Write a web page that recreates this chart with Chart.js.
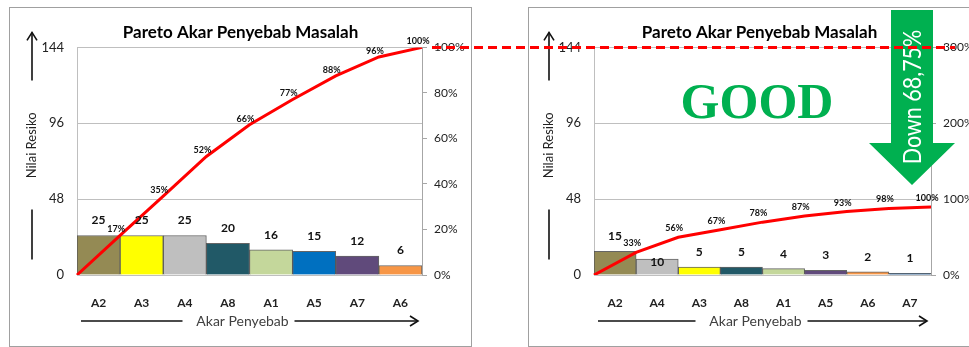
<!DOCTYPE html>
<html>
<head>
<meta charset="utf-8">
<script src="https://cdn.jsdelivr.net/npm/chart.js@4.4.1/dist/chart.umd.min.js"></script>
<style>
  body { margin: 0; background: #fff; width: 969px; height: 347px; overflow: hidden; position: relative; }
  .box { position: absolute; top: 7px; height: 340px; border: 1px solid #a0a0a0; box-sizing: border-box; }
  canvas { position: absolute; }
  #overlay { left: 0; top: 0; pointer-events: none; }
</style>
</head>
<body>
<div class="box" style="left:9px;width:463px"></div>
<div class="box" style="left:528px;width:463px"></div>
<canvas id="before" width="461" height="337" style="left:10px;top:8px"></canvas>
<canvas id="after" width="461" height="337" style="left:529px;top:8px"></canvas>
<canvas id="overlay" width="969" height="347"></canvas>

<script>
// ---- data ----
const causesBefore = ['A2', 'A3', 'A4', 'A8', 'A1', 'A5', 'A7', 'A6'];
const riskBefore = [25, 25, 25, 20, 16, 15, 12, 6];
const cumBefore = [0, 17.4, 34.7, 52.1, 66.0, 77.1, 87.5, 95.8, 100];

const causesAfter = ['A2', 'A4', 'A3', 'A8', 'A1', 'A5', 'A6', 'A7'];
const riskAfter = [15, 10, 5, 5, 4, 3, 2, 1];
const cumAfter = [0, 33.3, 55.6, 66.7, 77.8, 86.7, 93.3, 97.8, 100];

const riskTicks = [0, 48, 96, 144];
const chartTitle = 'Pareto Akar Penyebab Masalah';
const yTitle = 'Nilai Resiko';
const xTitle = 'Akar Penyebab';

// colours in bar order
const colorsBefore = ['#948A54', '#FFFF00', '#BFBFBF', '#215967', '#C4D79B', '#0070C0', '#604A7B', '#F79646'];
const colorsAfter = ['#948A54', '#BFBFBF', '#FFFF00', '#215967', '#C4D79B', '#604A7B', '#F79646', '#1F5F9F'];

Chart.defaults.font.family = 'Lato';
Chart.defaults.color = '#333';

const gridGray = '#bfbfbf';

// value labels over bars and % labels over the cumulative line
const pointLabels = {
  id: 'pointLabels',
  afterDatasetsDraw(chart, args, opts) {
    const ctx = chart.ctx;
    ctx.save();
    ctx.fillStyle = '#111';
    ctx.textAlign = 'center';
    ctx.textBaseline = 'middle';
    ctx.font = 'bold 12px Lato';
    const bars = chart.data.datasets[0].data;
    chart.getDatasetMeta(0).data.forEach((bar, i) => {
      const nudge = (opts.nudge && opts.nudge[i]) || 0;
      ctx.fillText(bars[i], bar.x, bar.y - 15 + nudge);
    });
    ctx.font = 'bold 9px Lato';
    const cum = chart.data.datasets[1].data;
    chart.getDatasetMeta(1).data.forEach((pt, i) => {
      if (i === 0) return;
      ctx.fillText(Math.round(cum[i]) + '%', pt.x - opts.dx, pt.y + opts.dy);
    });
    ctx.restore();
  }
};

function arrowHead(ctx, x, y, dir) {
  // dir: 'up' or 'right'
  ctx.beginPath();
  if (dir === 'up') {
    ctx.moveTo(x - 5, y + 8); ctx.lineTo(x, y); ctx.lineTo(x + 5, y + 8);
  } else {
    ctx.moveTo(x - 8, y - 5); ctx.lineTo(x, y); ctx.lineTo(x - 8, y + 5);
  }
  ctx.stroke();
}

// axis titles with the long arrows beside them
const axisDecor = {
  id: 'axisDecor',
  afterDraw(chart) {
    const { ctx, chartArea: a } = chart;
    ctx.save();
    ctx.strokeStyle = '#111';
    ctx.lineWidth = 1.6;
    const x = a.left - 45;
    ctx.beginPath();
    ctx.moveTo(x, a.top + 33); ctx.lineTo(x, a.top - 15);
    ctx.moveTo(x, a.top + 162); ctx.lineTo(x, a.top + 212);
    ctx.stroke();
    arrowHead(ctx, x, a.top - 15, 'up');

    ctx.fillStyle = '#222';
    ctx.font = '13px Lato';
    ctx.textAlign = 'center';
    ctx.textBaseline = 'middle';
    ctx.save();
    ctx.translate(x, a.top + 98);
    ctx.rotate(-Math.PI / 2);
    ctx.fillText(yTitle, 0, 0);
    ctx.restore();

    const y = a.bottom + 46;
    const mid = (a.left + a.right) / 2 - 7;
    ctx.beginPath();
    ctx.moveTo(a.left + 4, y); ctx.lineTo(mid - 60, y);
    ctx.moveTo(mid + 52, y); ctx.lineTo(a.right - 4, y);
    ctx.stroke();
    arrowHead(ctx, a.right - 4, y, 'right');
    ctx.fillStyle = '#404040';
    ctx.font = '14px Lato';
    ctx.fillText(xTitle, mid, y);
    ctx.restore();
  }
};

function makePareto(id, causes, risk, cum, colors, pctMax, pctStep, lineMax, labelOpts, leftWidth, rightWidth) {
  const scales = {
    x: {
      grid: { display: false },
      border: { color: gridGray },
      ticks: { font: { size: 12, weight: 'bold' }, color: '#222', padding: 13 },
      afterFit: (s) => { s.height = 70; }
    },
    x2: {
      type: 'category',
      labels: cum.map(() => ''),
      offset: false,
      display: false
    },
    y: {
      position: 'left',
      min: 0, max: 144,
      afterBuildTicks: (s) => { s.ticks = riskTicks.map(v => ({ value: v })); },
      grid: { color: gridGray, drawTicks: false },
      border: { color: gridGray },
      ticks: { font: { size: 13 }, color: '#222', padding: 13 },
      afterFit: (s) => { s.width = leftWidth; }
    },
    yPct: {
      position: 'right',
      min: 0, max: pctMax,
      grid: { drawOnChartArea: false, color: '#a6a6a6', tickLength: 5 },
      border: { color: '#a6a6a6' },
      ticks: { stepSize: pctStep, font: { size: 12 }, color: '#222', padding: 7, callback: v => v + '%' },
      afterFit: (s) => { s.width = rightWidth; }
    }
  };
  let lineAxis = 'yPct';
  if (lineMax) {
    scales.yLine = { display: false, min: 0, max: lineMax };
    lineAxis = 'yLine';
  }
  return new Chart(document.getElementById(id), {
    type: 'bar',
    data: {
      labels: causes,
      datasets: [
        {
          type: 'bar',
          data: risk,
          backgroundColor: colors,
          borderColor: 'rgba(50,50,50,0.75)',
          borderWidth: 1,
          barPercentage: 1,
          categoryPercentage: 1,
          grouped: false,
          xAxisID: 'x',
          yAxisID: 'y',
          order: 2
        },
        {
          type: 'line',
          data: cum,
          borderColor: '#FF0000',
          borderWidth: 3,
          pointRadius: 0,
          tension: 0,
          xAxisID: 'x2',
          yAxisID: lineAxis,
          order: 1
        }
      ]
    },
    options: {
      responsive: false,
      animation: false,
      devicePixelRatio: 1,
      layout: { autoPadding: false, padding: 0 },
      plugins: {
        legend: { display: false },
        tooltip: { enabled: false },
        title: {
          display: true,
          text: chartTitle,
          color: '#000',
          font: { size: 17, weight: 'bold' },
          padding: { top: 14, bottom: 5 }
        },
        pointLabels: labelOpts
      },
      scales: scales
    },
    plugins: [pointLabels, axisDecor]
  });
}

const before = makePareto('before', causesBefore, riskBefore, cumBefore, colorsBefore,
  100, 20, null, { dx: 4, dy: -6 }, 67, 49);
const after = makePareto('after', causesAfter, riskAfter, cumAfter, colorsAfter,
  300, 100, 335, { dx: 4, dy: -9, nudge: [0, 18, 0, 0, 0, 0, 0, 0] }, 65, 59);

// annotations laid over both charts
(function drawOverlay() {
  const ctx = document.getElementById('overlay').getContext('2d');

  ctx.fillStyle = '#00B050';
  ctx.beginPath();
  ctx.moveTo(891, 10); ctx.lineTo(933, 10); ctx.lineTo(933, 143); ctx.lineTo(955, 143);
  ctx.lineTo(912, 185); ctx.lineTo(869, 143); ctx.lineTo(891, 143);
  ctx.closePath();
  ctx.fill();

  ctx.save();
  ctx.translate(913, 97);
  ctx.rotate(-Math.PI / 2);
  ctx.scale(0.86, 1);
  ctx.fillStyle = '#fff';
  ctx.font = '25px Lato';
  ctx.textAlign = 'center';
  ctx.textBaseline = 'middle';
  ctx.fillText('Down 68,75%', 0, 0);
  ctx.restore();

  ctx.fillStyle = '#00B050';
  ctx.font = 'bold 50px "Liberation Serif"';
  ctx.textAlign = 'center';
  ctx.textBaseline = 'middle';
  ctx.fillText('GOOD', 757, 105);

  // dashed line from the "before" 100% point across to the "after" chart
  const y = 8 + before.scales.yPct.getPixelForValue(100);
  ctx.strokeStyle = '#FF0000';
  ctx.lineWidth = 3;
  ctx.setLineDash([9, 5]);
  ctx.beginPath();
  ctx.moveTo(10 + before.chartArea.right + 10, y);
  ctx.lineTo(955, y);
  ctx.stroke();
})();
</script>
</body>
</html>
